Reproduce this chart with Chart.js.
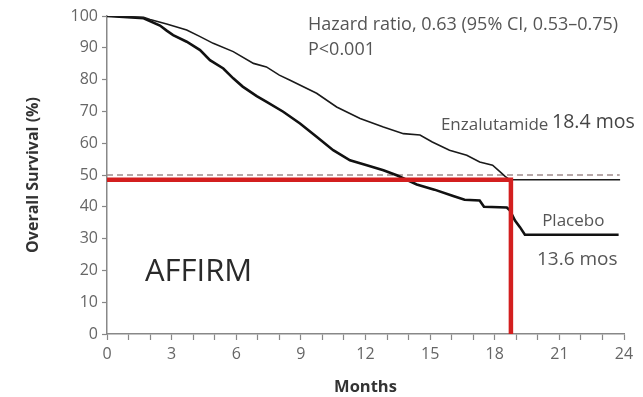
<!DOCTYPE html>
<html><head><meta charset="utf-8">
<script src="https://cdn.jsdelivr.net/npm/chart.js@4"></script>
<style>html,body{margin:0;padding:0;background:#fff}</style>
</head><body>
<canvas id="c" width="643" height="397"></canvas>
<script>
// ---- Data ----
const enzaMonths    = [0, 1.7, 2.0, 2.77, 3.7, 4.3, 4.93, 5.86, 6.8, 7.4, 8.0, 8.5, 9.73, 10.66, 11.75, 12.83, 13.76, 14.53, 15.1, 15.9, 16.7, 17.3, 17.9, 18.25, 18.48, 18.7, 23.82];
const enzaSurvival  = [100, 99.6, 98.9, 97.5, 95.6, 93.6, 91.4, 88.8, 85.1, 84.0, 81.4, 79.8, 75.7, 71.4, 67.8, 65.1, 63.0, 62.6, 60.4, 57.8, 56.2, 54.1, 53.1, 51.0, 49.6, 48.5, 48.5];
const placeboMonths   = [0, 1.7, 2.46, 2.77, 3.07, 3.7, 4.32, 4.78, 5.4, 5.86, 6.3, 6.95, 7.41, 8.18, 8.96, 9.73, 10.5, 11.28, 12.06, 12.83, 13.45, 14.38, 15.2, 16.07, 16.6, 17.3, 17.5, 18.56, 18.7, 18.94, 19.17, 19.4, 23.75];
const placeboSurvival = [100, 99.3, 97.0, 95.4, 94.0, 91.9, 89.3, 86.1, 83.5, 80.4, 77.8, 74.8, 73.0, 69.9, 66.2, 62.0, 57.8, 54.6, 53.1, 51.5, 49.9, 47.0, 45.4, 43.4, 42.2, 42.0, 40.0, 39.8, 38.9, 35.7, 33.6, 31.2, 31.2];
const medianLineMonths   = [0, 18.75, 18.75];
const medianLineSurvival = [48.5, 48.5, 0];
const halfLineMonths   = [0, 23.8];
const halfLineSurvival = [50, 50];
const xTickStep = 1, xLabelEvery = 3, xMin = 0, xMax = 24;
const yTickStep = 10, yMin = 0, yMax = 100;

const toPts = (xs, ys) => xs.map((x, i) => ({x, y: ys[i]}));

const annotations = [
  {text: 'Hazard ratio, 0.63 (95% CI, 0.53\u20130.75)', x: 9.33, y: 97.2, font: '18px "Open Sans"', color: '#555'},
  {text: 'P<0.001', x: 9.33, y: 89.3, font: '18px "Open Sans"', color: '#555'},
  {text: 'Enzalutamide', x: 15.5, y: 65.7, font: '17px "Open Sans"', color: '#555'},
  {text: '18.4 mos', x: 20.66, y: 66.6, font: '19.5px "Open Sans"', color: '#444'},
  {text: 'Placebo', x: 20.2, y: 35.4, font: '17px "Open Sans"', color: '#555'},
  {text: '13.6 mos', x: 19.96, y: 23.5, font: '19px "Open Sans"', color: '#555'},
  {text: 'AFFIRM', x: 1.76, y: 19.4, font: '31px "Open Sans"', color: '#2a2a2a'}
];

const textPlugin = {
  id: 'texts',
  afterDatasetsDraw(chart) {
    const {ctx, scales: {x, y}} = chart;
    ctx.save();
    ctx.textBaseline = 'middle';
    ctx.textAlign = 'left';
    annotations.forEach(a => {
      ctx.font = a.font;
      ctx.fillStyle = a.color;
      ctx.fillText(a.text, x.getPixelForValue(a.x), y.getPixelForValue(a.y));
    });
    ctx.restore();
  }
};

new Chart(document.getElementById('c'), {
  type: 'scatter',
  data: {
    datasets: [
      {label: 'Median', data: toPts(medianLineMonths, medianLineSurvival), showLine: true, borderColor: '#d31f1f', borderWidth: 4.5, pointRadius: 0, borderCapStyle: 'butt'},
      {label: 'Enzalutamide', data: toPts(enzaMonths, enzaSurvival), showLine: true, borderColor: '#1a1a1a', borderWidth: 1.6, pointRadius: 0},
      {label: 'Placebo', data: toPts(placeboMonths, placeboSurvival), showLine: true, borderColor: '#111', borderWidth: 2.6, pointRadius: 0},
      {label: '50%', data: toPts(halfLineMonths, halfLineSurvival), showLine: true, borderColor: '#a08c8c', borderWidth: 1.3, borderDash: [6, 4], pointRadius: 0}
    ]
  },
  options: {
    responsive: false,
    animation: false,
    events: [],
    layout: {padding: {left: 0, right: 19, top: 16, bottom: 0}},
    plugins: {legend: {display: false}, tooltip: {enabled: false}},
    scales: {
      x: {
        type: 'linear', min: xMin, max: xMax,
        afterFit: s => { s.height = 63; },
        grid: {drawOnChartArea: false, tickLength: 6, tickColor: '#888', tickWidth: 1.2},
        border: {color: '#888', width: 1.5},
        ticks: {stepSize: xTickStep, autoSkip: false, maxRotation: 0, padding: 5, color: '#666', font: {family: 'Open Sans', size: 16}},
        title: {display: true, text: 'Months', color: '#333', font: {family: 'Open Sans', size: 16.5, weight: 'bold'}, padding: {top: 0, bottom: 0}}
      },
      y: {
        type: 'linear', min: yMin, max: yMax,
        afterFit: s => { s.width = 107; },
        grid: {drawOnChartArea: false, tickLength: 5, tickColor: '#888', tickWidth: 1.2},
        border: {color: '#888', width: 1.5},
        ticks: {stepSize: yTickStep, padding: 4, color: '#666', font: {family: 'Open Sans', size: 16}},
        title: {display: true, text: 'Overall Survival (%)', color: '#333', font: {family: 'Open Sans', size: 16, weight: 'bold'}, padding: {top: 24, bottom: 0}}
      }
    }
  },
  plugins: [textPlugin]
});
// x tick labels only every 3 months
Chart.getChart('c').options.scales.x.ticks.callback = v => (v % xLabelEvery === 0 ? String(v) : '');
Chart.getChart('c').update();
</script>
</body></html>
